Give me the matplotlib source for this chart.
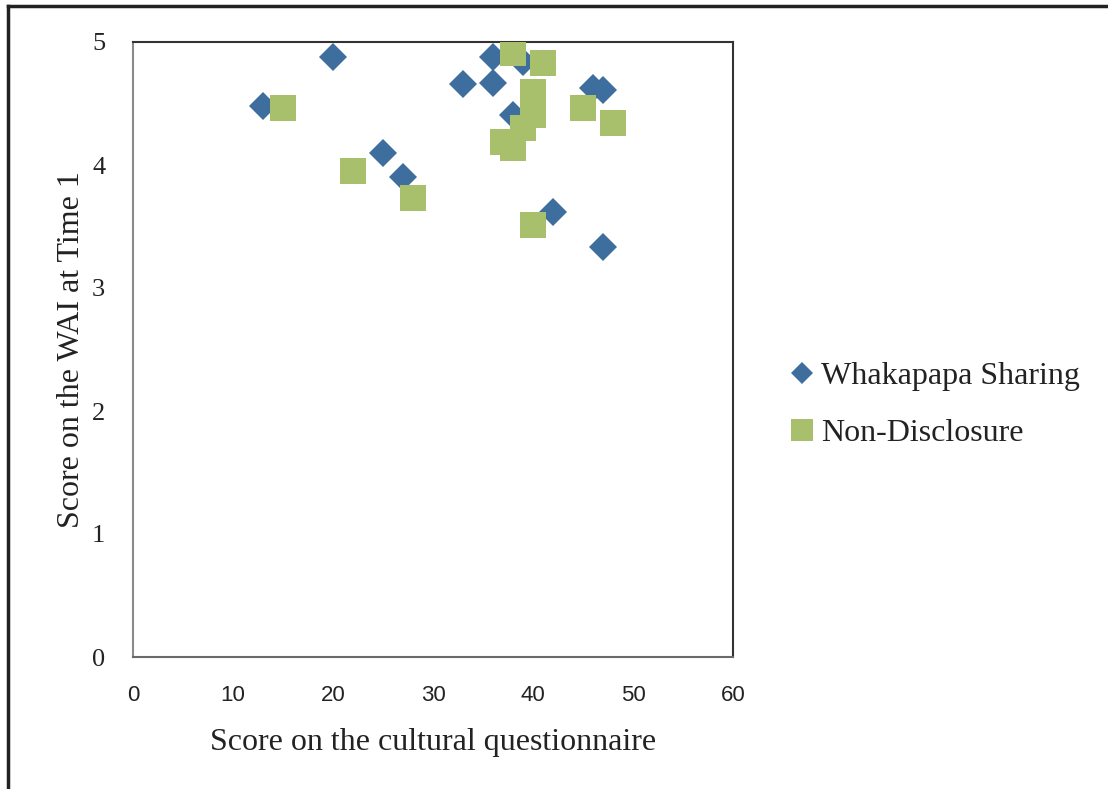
import matplotlib.pyplot as plt
from matplotlib.lines import Line2D

# Whakapapa Sharing (blue diamonds)
ws_x = [13, 20, 25, 27, 33, 36, 36, 39, 38, 46, 47, 42, 47]
ws_y = [4.48, 4.88, 4.10, 3.90, 4.66, 4.67, 4.88, 4.84, 4.41, 4.63, 4.61, 3.62, 3.33]

# Non-Disclosure (green squares)
nd_x = [15, 22, 28, 38, 41, 40, 40, 39, 37, 38, 45, 48, 40]
nd_y = [4.46, 3.95, 3.73, 4.91, 4.83, 4.59, 4.41, 4.30, 4.19, 4.14, 4.46, 4.34, 3.51]

x_ticks = [0, 10, 20, 30, 40, 50, 60]
y_ticks = [0, 1, 2, 3, 4, 5]

blue = '#3D6E9E'
green = '#A8C06C'
serif = 'Liberation Serif'

fig = plt.figure(figsize=(11.08, 7.89), dpi=100)
ax = fig.add_axes([133 / 1108, 1 - 657 / 789, 600 / 1108, 615 / 789])

ax.plot(ws_x, ws_y, 'D', color=blue, markersize=14, markeredgewidth=0,
        label='Whakapapa Sharing', zorder=3)
ax.plot(nd_x, nd_y, 's', color=green, markersize=19, markeredgewidth=0,
        label='Non-Disclosure', zorder=4)

ax.set_xlim(0, 60)
ax.set_ylim(0, 5)
ax.set_xticks(x_ticks)
ax.set_yticks(y_ticks)
ax.tick_params(length=0)
ax.tick_params(axis='x', pad=20, labelsize=16)
ax.tick_params(axis='y', pad=20, labelsize=19)
for lab in ax.get_xticklabels():
    lab.set_fontfamily('Liberation Sans')
    lab.set_color('#222222')
for lab in ax.get_yticklabels():
    lab.set_fontfamily(serif)
    lab.set_color('#222222')

ax.spines['left'].set_color('#8a8a8a')
ax.spines['bottom'].set_color('#6a6a6a')
ax.spines['top'].set_color('#333333')
ax.spines['right'].set_color('#333333')
for s in ax.spines.values():
    s.set_linewidth(1.5)

ax.set_xlabel('Score on the cultural questionnaire', family=serif, fontsize=23,
              color='#222222', labelpad=16)
ax.set_ylabel('Score on the WAI at Time 1', family=serif, fontsize=23,
              color='#222222', labelpad=4)

leg = fig.legend(loc='center left', bbox_to_anchor=(765 / 1108, 1 - 405 / 789),
                 frameon=False, prop={'family': serif, 'size': 23},
                 handlelength=0.5, handletextpad=0.35, labelspacing=0.85,
                 markerscale=0.8)
for t in leg.get_texts():
    t.set_color('#222222')

# outer frame (left and top)
fig.add_artist(Line2D([8 / 1108, 8 / 1108], [0, 1 - 6 / 789], color='#222222', lw=2.5))
fig.add_artist(Line2D([8 / 1108, 1], [1 - 6 / 789, 1 - 6 / 789], color='#222222', lw=2.5))

fig.savefig('out.png', dpi=100)
